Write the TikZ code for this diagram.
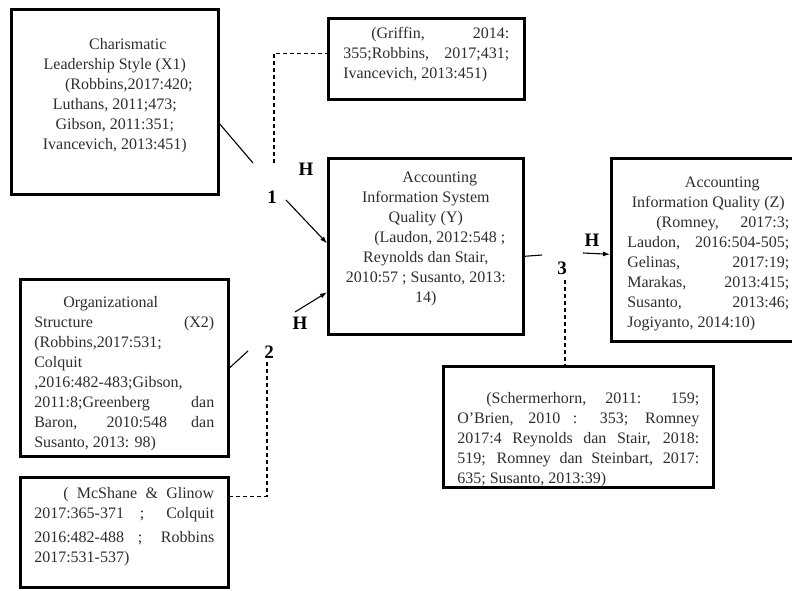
\documentclass[tikz,border=0pt]{standalone}
\usepackage{fontspec}
\setmainfont{Liberation Serif}
\usetikzlibrary{calc,positioning,arrows.meta}
\definecolor{inkgray}{RGB}{45,45,45}

% box body: height, width, top gap, text
\newcommand{\boxbody}[4]{\parbox[c][#1pt][t]{#2pt}{\sloppy\vspace*{#3pt}#4}}

\tikzset{
  refbox/.style={draw=black, line width=2.6pt, inner ysep=0pt, anchor=north west,
    text=inkgray, font=\fontsize{16}{20}\selectfont},
  hyplabel/.style={font=\bfseries\fontsize{19}{22}\selectfont, inner sep=0pt},
  link/.style={line width=1.1pt},
  dashlink/.style={line width=1.1pt, dash pattern=on 4pt off 3pt},
  arr/.style={line width=1.1pt, -{Latex[length=7pt,width=5pt]}}
}

\begin{document}
\begin{tikzpicture}[x=1pt,y=-1pt]
    \clip (0,0) rectangle (792,591);

    % Variable boxes
    \node[refbox, inner xsep=10pt] (x1) at (10,8) {\boxbody{185}{187}{29}{\centering
        \hspace*{26pt}Charismatic\\ Leadership Style (X1)\\ \hspace*{28pt}(Robbins,2017:420;\\
        Luthans, 2011;473;\\ Gibson, 2011:351;\\ Ivancevich, 2013:451)}};

    \node[refbox, inner xsep=15pt] (gr) at (327,17) {\boxbody{81}{166}{9}{%
        \hspace*{28pt}(Griffin, 2014:\linebreak 355;Robbins, 2017;431;\linebreak
        Ivancevich, 2013:451)}};

    \node[refbox, inner xsep=10pt] (ys) at (327,157) {\boxbody{176}{175}{14}{\centering
        \hspace*{28pt}Accounting\\ Information System\\ Quality (Y)\\
        \hspace*{28pt}(Laudon, 2012:548 ;\\ Reynolds dan Stair,\\
        2010:57 ; Susanto, 2013:\\ 14)}};

    \node[refbox, inner xsep=16pt] (zq) at (610,157) {\boxbody{183}{162}{19}{%
        {\centering\hspace*{28pt}Accounting\\ Information Quality (Z)\par}
        \hspace*{29pt}(Romney, 2017:3;\linebreak Laudon, 2016:504-505;\linebreak
        Gelinas, 2017:19;\linebreak Marakas, 2013:415;\linebreak
        Susanto, 2013:46;\linebreak Jogiyanto, 2014:10)}};

    \node[refbox, inner xsep=14pt] (x2) at (19,278) {\boxbody{177}{180}{17}{%
        \hspace*{29pt}Organizational\\ Structure (X2)\linebreak (Robbins,2017:531;\\
        Colquit\\ ,2016:482-483;Gibson,\\ 2011:8;Greenberg dan\linebreak
        Baron, 2010:548 dan\linebreak Susanto, 2013: 98)}};

    \node[refbox, inner xsep=14pt] (mc) at (19,476) {\boxbody{110}{180}{10}{%
        \hspace*{29pt}( McShane \& Glinow\linebreak 2017:365-371 ; Colquit\vadjust{\vskip4pt}\linebreak
        2016:482-488 ; Robbins\linebreak 2017:531-537)}};

    \node[refbox, inner xsep=14pt] (sc) at (442,365) {\boxbody{121}{242}{26}{%
        \hspace*{29pt}(Schermerhorn, 2011: 159;\linebreak O'Brien, 2010 : 353; Romney\linebreak
        2017:4 Reynolds dan Stair, 2018:\linebreak 519; Romney dan Steinbart, 2017:\linebreak
        635; Susanto, 2013:39)}};

    % Hypothesis labels
    \node[hyplabel] (h1) at (306,169) {H};
    \node[hyplabel] (lab1) at (272,197) {1};
    \node[hyplabel] (h2) at (300,323) {H};
    \node[hyplabel] (lab2) at (269,352) {2};
    \node[hyplabel] (lab3) at (562,268) {3};
    \node[hyplabel] (h3) at (592,240) {H};

    % Free ends
    \coordinate (c1) at (253,163);
    \coordinate (d1) at (274,163);
    \coordinate (a1) at (286,200);
    \coordinate (a2) at (295,312);
    \coordinate (c2) at (248,351);
    \coordinate (d2) at (267,362);
    \coordinate (c3) at (542,255);
    \coordinate (d3) at (565,280);
    \coordinate (a3) at (583,253);

    % Connectors
    \draw[link] ($(x1.east)+(0,22)$) -- (c1);
    \draw[dashlink] (d1) |- ($(gr.west)+(0,-5.5)$);
    \draw[arr] (a1) -- ($(ys.west)+(0,-3)$);
    \draw[arr] (a2) -- ($(ys.west)+(0,46)$);
    \draw[link] (x2.east) -- (c2);
    \draw[dashlink] (d2) |- ($(mc.east)+(0,-36)$);
    \draw[link] ($(ys.east)+(0,10)$) -- (c3);
    \draw[dashlink] (d3) -- (d3 |- sc.north);
    \draw[arr] (a3) -- ($(zq.west)+(0,4.5)$);
\end{tikzpicture}
\end{document}
